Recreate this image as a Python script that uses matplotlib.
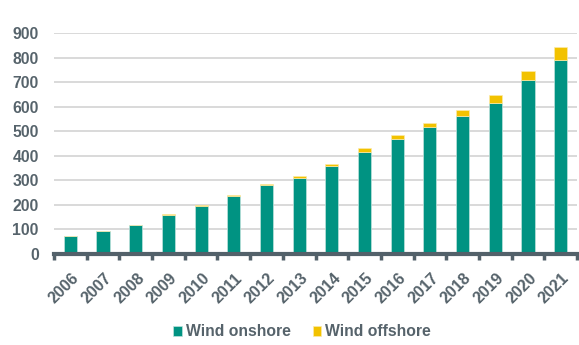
import matplotlib
matplotlib.use("Agg")
import matplotlib.pyplot as plt
import matplotlib.transforms as mtransforms
import numpy as np

years = ["2006", "2007", "2008", "2009", "2010", "2011", "2012", "2013",
         "2014", "2015", "2016", "2017", "2018", "2019", "2020", "2021"]
onshore = [72, 92, 118, 158, 196, 236, 279, 309, 359, 417, 469, 517, 564, 615, 709, 791]
offshore = [1, 1, 2, 3, 3, 3, 6, 8, 9, 14, 14, 18, 22, 33, 36, 53]
yticks = [0, 100, 200, 300, 400, 500, 600, 700, 800, 900]

teal = "#009382"
gold = "#f2c200"
text_col = "#56636b"
axis_col = "#53616a"

plt.rcParams["font.family"] = ["Liberation Sans", "DejaVu Sans"]
plt.rcParams["font.weight"] = "bold"

fig = plt.figure(figsize=(5.79, 3.45), dpi=100)
ax = fig.add_axes([54 / 579, 1 - 254 / 345, 523 / 579, 221 / 345])

x = np.arange(len(years))
ax.bar(x, onshore, width=0.4, color=teal, edgecolor="#bfe3dc", linewidth=0.5,
       label="Wind onshore", zorder=3)
ax.bar(x, offshore, width=0.4, bottom=onshore, color=gold, edgecolor="#fbe9a8",
       linewidth=0.5, label="Wind offshore", zorder=3)

ax.set_xlim(-0.5, len(years) - 0.5)
ax.set_ylim(0, 900)
ax.set_yticks(yticks)
ax.set_yticklabels([str(v) for v in yticks], fontsize=11.3, fontweight="bold", color=text_col)
ax.yaxis.grid(True, color="#d9d9d9", linewidth=1.4, zorder=0)
ax.tick_params(axis="y", length=0, pad=11)

ax.set_xticks(x)
ax.set_xticklabels(years, rotation=45, ha="right", rotation_mode="anchor",
                   fontsize=11.5, fontweight="bold", color=text_col)
ax.tick_params(axis="x", length=0, pad=12)
shift = mtransforms.ScaledTranslation(1 / 100, 0, fig.dpi_scale_trans)
for lbl in ax.get_xticklabels():
    lbl.set_transform(lbl.get_transform() + shift)
# category separator ticks on the x axis
ax.set_xticks(np.arange(-0.5, len(years), 1.0), minor=True)
ax.tick_params(axis="x", which="minor", length=4, width=2.5, color=axis_col, direction="out")

for s in ["top", "right", "left"]:
    ax.spines[s].set_visible(False)
ax.spines["bottom"].set_color(axis_col)
ax.spines["bottom"].set_linewidth(3)
ax.spines["bottom"].set_zorder(4)

leg = fig.legend(loc="center", bbox_to_anchor=(302 / 579, 1 - 332 / 345), ncol=2, frameon=False,
                 prop={"size": 11.3, "weight": "bold"}, handlelength=0.55, handleheight=0.55,
                 handletextpad=0.25, columnspacing=1.4)
for t in leg.get_texts():
    t.set_color(text_col)

fig.savefig("out.png", dpi=100)
